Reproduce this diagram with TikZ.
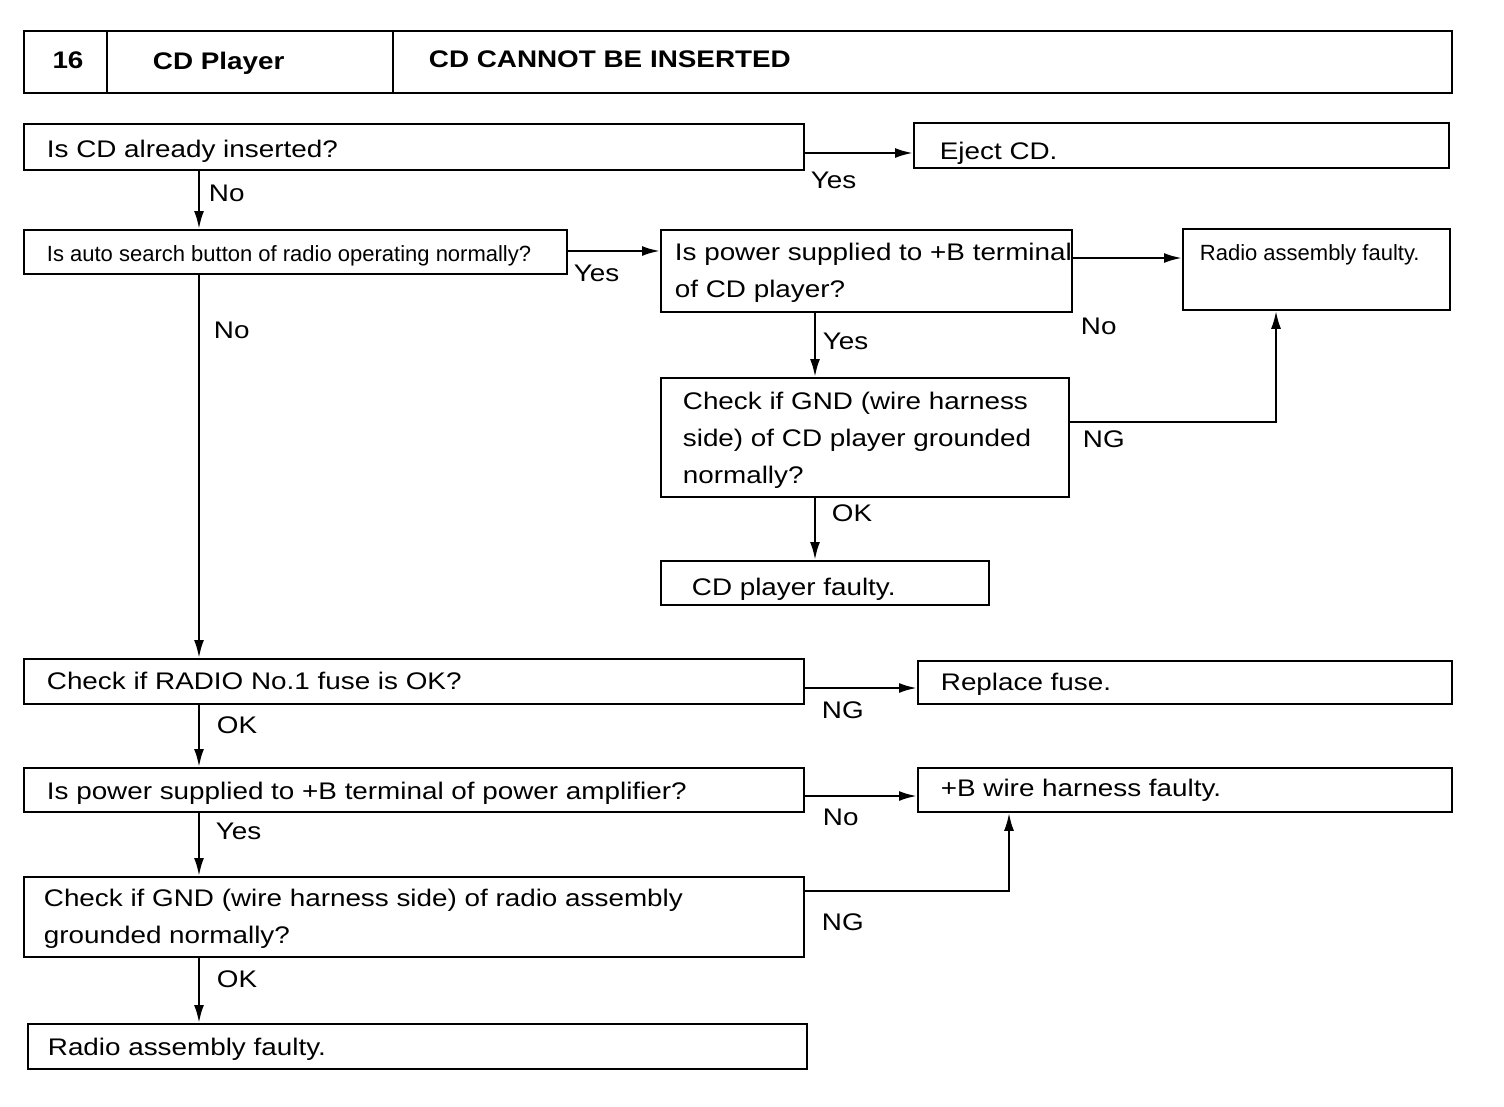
\documentclass[tikz,border=0pt]{standalone}
\usepackage{fontspec}
\setmainfont{Liberation Sans}[FakeStretch=1.16]
\newfontfamily\narrowfnt{Liberation Sans}
\usetikzlibrary{arrows.meta}

\tikzset{every picture/.style={line width=1.8pt}}
\tikzset{
  box/.style={draw, line width=1.8pt, anchor=north west, inner sep=0pt},
  txt/.style={anchor=north west, inner sep=0pt, align=left, font=\fontsize{24}{37}\selectfont},
  smalltxt/.style={anchor=north west, inner sep=0pt, align=left, font=\narrowfnt\fontsize{22}{30}\selectfont},
  headtxt/.style={anchor=north west, inner sep=0pt, font=\bfseries\fontsize{24}{30}\selectfont},
  arr/.style={-{Latex[length=18pt,width=10pt]}, line width=2.4pt},
}

\begin{document}
\begin{tikzpicture}[x=1pt,y=1pt,yscale=-1,xscale=1]
	\useasboundingbox (0,0) rectangle (1504,1106);

	%Header
	\node [box, minimum width=1428pt, minimum height=62pt] (hdr) at (23,30) {};
	\draw (107,30) -- (107,92);
	\draw (393,30) -- (393,92);
	\node [headtxt, anchor=north] (hdr-no) at (68,51) {16};
	\node [headtxt] (hdr-sys) at (152,51) {CD Player};
	\node [headtxt] (hdr-sym) at (428,50) {CD CANNOT BE INSERTED};

	%Boxes
	\node [box, minimum width=780pt, minimum height=46pt] (isin) at (23,123) {};
	\node [box, minimum width=535pt, minimum height=45pt] (eject) at (913,122) {};
	\node [box, minimum width=543pt, minimum height=44pt] (srch) at (23,229) {};
	\node [box, minimum width=411pt, minimum height=82pt] (pwcd) at (660,229) {};
	\node [box, minimum width=267pt, minimum height=81pt] (radio) at (1182,228) {};
	\node [box, minimum width=408pt, minimum height=119pt] (gndcd) at (660,377) {};
	\node [box, minimum width=328pt, minimum height=44pt] (cdf) at (660,560) {};
	\node [box, minimum width=780pt, minimum height=45pt] (fuse) at (23,658) {};
	\node [box, minimum width=534pt, minimum height=43pt] (repl) at (917,660) {};
	\node [box, minimum width=780pt, minimum height=44pt] (pwamp) at (23,767) {};
	\node [box, minimum width=534pt, minimum height=44pt] (harn) at (917,767) {};
	\node [box, minimum width=780pt, minimum height=80pt] (gndra) at (23,876) {};
	\node [box, minimum width=779pt, minimum height=45pt] (radf) at (27,1023) {};

	%Box texts
	\node [txt] (isin-t) at (46,139) {Is CD already inserted?};
	\node [txt] (eject-t) at (939,141) {Eject CD.};
	\node [smalltxt] (srch-t) at (46,245) {Is auto search button of radio operating normally?};
	\node [txt] (pwcd-t) at (674,242) {Is power supplied to +B terminal\\of CD player?};
	\node [smalltxt] (radio-t) at (1199,244) {Radio assembly faulty.};
	\node [txt] (gndcd-t) at (682,391) {Check if GND (wire harness\\side) of CD player grounded\\normally?};
	\node [txt] (cdf-t) at (691,577) {CD player faulty.};
	\node [txt] (fuse-t) at (46,671) {Check if RADIO No.1 fuse is OK?};
	\node [txt] (repl-t) at (940,672) {Replace fuse.};
	\node [txt] (pwamp-t) at (46,781) {Is power supplied to +B terminal of power amplifier?};
	\node [txt] (harn-t) at (940,778) {+B wire harness faulty.};
	\node [txt] (gndra-t) at (43,888) {Check if GND (wire harness side) of radio assembly\\grounded normally?};
	\node [txt] (radf-t) at (47,1037) {Radio assembly faulty.};

	%Connectors
	\coordinate (spine) at (199,0);
	\coordinate (cdx) at (815,0);
	\coordinate (r1) at (0,153);
	\coordinate (r2) at (0,251);
	\coordinate (r3) at (0,258);
	\coordinate (r4) at (0,688);
	\coordinate (r5) at (0,796);
	\coordinate (ng1) at (1276,422);
	\coordinate (ng2) at (1009,891);

	\draw [arr] (r1 -| isin.east) -- (r1 -| eject.west);
	\draw [arr] (spine |- isin.south) -- (spine |- srch.north);
	\draw [arr] (r2 -| srch.east) -- (r2 -| pwcd.west);
	\draw [arr] (r3 -| pwcd.east) -- (r3 -| radio.west);
	\draw [arr] (cdx |- pwcd.south) -- (cdx |- gndcd.north);
	\draw [arr] (ng1 -| gndcd.east) -- (ng1) -- (ng1 |- radio.south);
	\draw [arr] (cdx |- gndcd.south) -- (cdx |- cdf.north);
	\draw [arr] (spine |- srch.south) -- (spine |- fuse.north);
	\draw [arr] (r4 -| fuse.east) -- (r4 -| repl.west);
	\draw [arr] (spine |- fuse.south) -- (spine |- pwamp.north);
	\draw [arr] (r5 -| pwamp.east) -- (r5 -| harn.west);
	\draw [arr] (spine |- pwamp.south) -- (spine |- gndra.north);
	\draw [arr] (ng2 -| gndra.east) -- (ng2) -- (ng2 |- harn.south);
	\draw [arr] (spine |- gndra.south) -- (spine |- radf.north);

	%Connector labels
	\node [txt] (l-yes1) at (810,171) {Yes};
	\node [txt] (l-no1) at (208,184) {No};
	\node [txt] (l-yes2) at (573,264) {Yes};
	\node [txt] (l-no2) at (1080,317) {No};
	\node [txt] (l-yes3) at (822,332) {Yes};
	\node [txt] (l-ng1) at (1082,430) {NG};
	\node [txt] (l-ok1) at (831,504) {OK};
	\node [txt] (l-no3) at (213,321) {No};
	\node [txt] (l-ng2) at (821,701) {NG};
	\node [txt] (l-ok2) at (216,716) {OK};
	\node [txt] (l-no4) at (822,808) {No};
	\node [txt] (l-yes4) at (215,822) {Yes};
	\node [txt] (l-ng3) at (821,913) {NG};
	\node [txt] (l-ok3) at (216,970) {OK};

\end{tikzpicture}
\end{document}
